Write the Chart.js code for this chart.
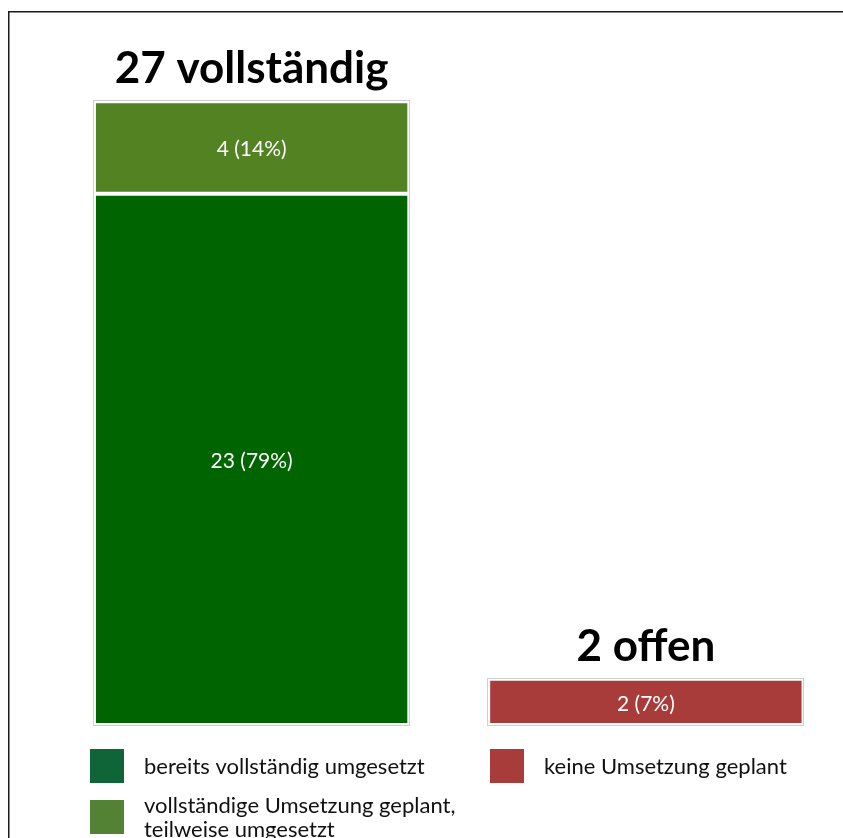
<!DOCTYPE html>
<html>
<head>
<meta charset="utf-8">
<script src="https://cdn.jsdelivr.net/npm/chart.js@4.4.1/dist/chart.umd.min.js"></script>
<style>
  html, body { margin: 0; padding: 0; background: #fff; }
  #wrap { position: relative; width: 843px; height: 838px; }
</style>
</head>
<body>
<div id="wrap"><canvas id="chart" width="843" height="838"></canvas></div>
<script>
// data
const categories = ['vollständig', 'offen'];
const seriesLabels = [
  'bereits vollständig umgesetzt',
  'vollständige Umsetzung geplant,\nteilweise umgesetzt',
  'keine Umsetzung geplant'
];
const doneValues = [23, 0];
const plannedValues = [4, 0];
const notPlannedValues = [0, 2];

const barColors = ['#006400', '#528222', '#a83c3a'];
const legendColors = ['#0f6538', '#548235', '#a83c3a'];
const FONT = 'Lato, "Open Sans", sans-serif';

const allValues = [doneValues, plannedValues, notPlannedValues];
const grandTotal = allValues.flat().reduce((a, b) => a + b, 0);

// labels inside bars, grey outline, headline above each stack
const barDecor = {
  id: 'barDecor',
  afterDatasetsDraw(chart) {
    const ctx = chart.ctx;
    ctx.save();
    categories.forEach((cat, i) => {
      let top = Infinity, bottom = -Infinity, left = 0, right = 0, sum = 0;
      chart.data.datasets.forEach((ds, d) => {
        const v = ds.data[i];
        if (!v) return;
        sum += v;
        const bar = chart.getDatasetMeta(d).data[i];
        const p = bar.getProps(['x', 'y', 'base', 'width'], true);
        top = Math.min(top, p.y);
        bottom = Math.max(bottom, p.base);
        left = p.x - p.width / 2;
        right = p.x + p.width / 2;
        ctx.fillStyle = '#ffffff';
        ctx.font = '21px ' + FONT;
        ctx.textAlign = 'center';
        ctx.textBaseline = 'middle';
        ctx.fillText(v + ' (' + Math.round(v / grandTotal * 100) + '%)', p.x, (p.y + p.base) / 2 + 2);
      });
      if (!sum) return;
      ctx.strokeStyle = '#cfcfcf';
      ctx.lineWidth = 1;
      ctx.strokeRect(Math.round(left) - 0.5, Math.round(top) - 0.5, Math.round(right - left) + 1, Math.round(bottom - top) + 1);
      ctx.fillStyle = '#000000';
      ctx.font = 'bold 44px ' + FONT;
      ctx.textAlign = 'center';
      ctx.textBaseline = 'alphabetic';
      ctx.fillText(sum + ' ' + cat, (left + right) / 2, top - 18);
    });
    ctx.restore();
  },
  afterDraw(chart) {
    const ctx = chart.ctx;
    ctx.save();
    // frame (left and top edge)
    ctx.strokeStyle = '#1a1a1a';
    ctx.lineWidth = 1.5;
    ctx.beginPath();
    ctx.moveTo(8.75, 840);
    ctx.lineTo(8.75, 11.75);
    ctx.lineTo(845, 11.75);
    ctx.stroke();
    // legend
    const slots = [[90, 749], [90, 800], [490, 749]];
    seriesLabels.forEach((label, k) => {
      const [lx, ly] = slots[k];
      ctx.fillStyle = legendColors[k];
      ctx.fillRect(lx, ly, 34, 34);
      ctx.fillStyle = '#111111';
      ctx.font = '22px ' + FONT;
      ctx.textAlign = 'left';
      ctx.textBaseline = 'middle';
      const lines = label.split('\n');
      lines.forEach((line, j) => {
        ctx.fillText(line, lx + 54, ly + 18 + (j - (lines.length - 1) / 2) * 24);
      });
    });
    ctx.restore();
  }
};

new Chart(document.getElementById('chart').getContext('2d'), {
  type: 'bar',
  data: {
    labels: categories,
    datasets: allValues.map((vals, k) => ({
      label: seriesLabels[k],
      data: vals,
      backgroundColor: barColors[k],
      borderColor: '#ffffff',
      borderWidth: 2,
      borderSkipped: false,
      categoryPercentage: 1,
      barPercentage: 0.8
    }))
  },
  options: {
    responsive: false,
    animation: false,
    layout: { padding: { left: 54.5, right: 0, top: 32, bottom: 113 } },
    scales: {
      x: { stacked: true, display: false },
      y: { stacked: true, display: false, min: 0, max: 30 }
    },
    plugins: {
      legend: { display: false },
      tooltip: { enabled: false }
    }
  },
  plugins: [barDecor]
});
</script>
</body>
</html>
